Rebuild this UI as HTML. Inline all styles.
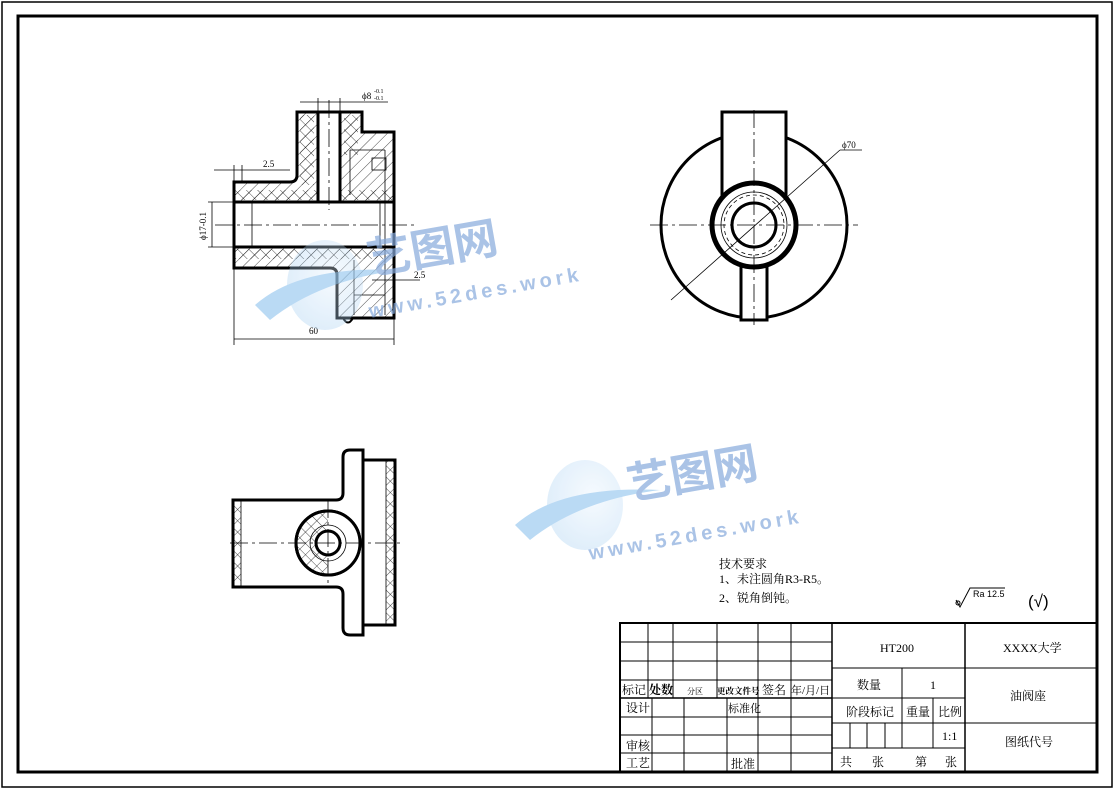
<!DOCTYPE html>
<html><head><meta charset="utf-8"><style>
html,body{margin:0;padding:0;background:#fff}
svg{display:block}
text{font-family:"Liberation Serif","Noto Serif CJK SC","Noto Sans CJK SC",serif;fill:#000}
.s{font-family:"Liberation Sans","Noto Sans CJK SC",sans-serif}
</style></head><body>
<svg width="1115" height="790" viewBox="0 0 1115 790" xmlns="http://www.w3.org/2000/svg">
<defs>
<pattern id="h" width="8" height="8" patternUnits="userSpaceOnUse" patternTransform="rotate(45)"><line x1="0" y1="0" x2="0" y2="8" stroke="#000" stroke-width="0.7"/></pattern>
<pattern id="x" width="8" height="8" patternUnits="userSpaceOnUse" patternTransform="rotate(45)"><line x1="0" y1="0" x2="0" y2="8" stroke="#000" stroke-width="0.7"/><line x1="0" y1="0" x2="8" y2="0" stroke="#000" stroke-width="0.7"/></pattern>
<radialGradient id="g" cx="0.6" cy="0.4" r="0.7"><stop offset="0" stop-color="#e6f2fd"/><stop offset="1" stop-color="#9ccaf0"/></radialGradient>
</defs>
<rect x="0" y="0" width="1115" height="790" fill="#fff"/>
<rect x="2" y="2" width="1110" height="785" fill="none" stroke="#000" stroke-width="1.5"/>
<rect x="18" y="16" width="1079" height="756" fill="none" stroke="#000" stroke-width="3"/>

<!-- FRONT VIEW -->
<g stroke="#000" fill="none">
<path d="M234 182 H290 Q297 182 297 175 V112 H362 V132 H394 V202 H234 Z" fill="url(#h)" stroke="none"/>
<path d="M234 247 H394 V318 H337 V275 Q337 268 330 268 H234 Z" fill="url(#h)" stroke="none"/>
<rect x="234" y="190" width="160" height="10" fill="url(#x)" stroke="none"/>
<rect x="234" y="249" width="160" height="10" fill="url(#x)" stroke="none"/>
<rect x="300" y="115" width="14" height="70" fill="url(#x)" stroke="none"/>
<rect x="344" y="115" width="14" height="40" fill="url(#x)" stroke="none"/>
<rect x="318" y="113" width="22" height="88" fill="#fff" stroke="none"/>
<rect x="236" y="203" width="157" height="43" fill="#fff" stroke="none"/>
<path d="M234 182 H290 Q297 182 297 175 V112 H362 V132 H394 V318 H337 V275 Q337 268 330 268 H234 Z" stroke-width="3"/>
<line x1="234" y1="202" x2="394" y2="202" stroke-width="3"/>
<line x1="234" y1="247" x2="394" y2="247" stroke-width="3"/>
<line x1="318" y1="112" x2="318" y2="202" stroke-width="3"/>
<line x1="340" y1="112" x2="340" y2="202" stroke-width="3"/>
<path d="M343 318 Q348 327 353 318" stroke-width="2"/>
<g stroke-width="0.8">
<line x1="252" y1="203" x2="252" y2="246"/><line x1="380" y1="203" x2="380" y2="246"/>
<line x1="350" y1="150" x2="385" y2="150"/><line x1="350" y1="150" x2="350" y2="195"/>
<rect x="372" y="158" width="14" height="12"/>
<line x1="354" y1="260" x2="354" y2="315"/><line x1="354" y1="295" x2="385" y2="295"/>
<line x1="385" y1="150" x2="385" y2="315"/>
</g>
<line x1="215" y1="225" x2="415" y2="225" stroke-width="0.8" stroke-dasharray="18 4 3 4"/>
<line x1="329" y1="100" x2="329" y2="210" stroke-width="0.8" stroke-dasharray="18 4 3 4"/>
<g stroke-width="0.8">
<line x1="300" y1="102" x2="388" y2="102"/><line x1="318" y1="98" x2="318" y2="112"/><line x1="340" y1="98" x2="340" y2="112"/>
<line x1="214" y1="170" x2="290" y2="170"/><line x1="234" y1="165" x2="234" y2="182"/><line x1="242" y1="165" x2="242" y2="182"/>
<line x1="208" y1="202" x2="234" y2="202"/><line x1="208" y1="247" x2="234" y2="247"/><line x1="212" y1="202" x2="212" y2="247"/>
<line x1="234" y1="268" x2="234" y2="345"/><line x1="394" y1="318" x2="394" y2="345"/><line x1="234" y1="339" x2="394" y2="339"/>
<line x1="372" y1="280" x2="420" y2="280"/>
</g>
</g>
<g class="s" font-size="9">
<text x="362" y="99">ϕ8</text><text x="374" y="93" font-size="6">-0.1</text><text x="374" y="100" font-size="6">-0.1</text>
<text x="263" y="167">2.5</text>
<text x="206" y="240" transform="rotate(-90 206 240)">ϕ17-0.1</text>
<text x="309" y="334">60</text>
<text x="414" y="278">2.5</text>
<text x="842" y="148">ϕ70</text>
</g>

<!-- RIGHT VIEW -->
<g stroke="#000" fill="none">
<circle cx="754" cy="225" r="93" stroke-width="3"/>
<rect x="722" y="112" width="64" height="90" fill="#fff" stroke-width="3"/>
<rect x="741" y="250" width="26" height="70" fill="#fff" stroke-width="3"/>
<circle cx="754" cy="225" r="42" fill="#fff" stroke-width="5"/>
<circle cx="754" cy="225" r="33" stroke-width="0.8"/>
<circle cx="754" cy="225" r="30" stroke-width="0.8" stroke-dasharray="4 3"/>
<circle cx="754" cy="225" r="22" fill="#fff" stroke-width="3"/>
<line x1="650" y1="225" x2="858" y2="225" stroke-width="0.8" stroke-dasharray="18 4 3 4"/>
<line x1="754" y1="110" x2="754" y2="325" stroke-width="0.8" stroke-dasharray="18 4 3 4"/>
<line x1="671" y1="300" x2="840" y2="150" stroke-width="0.8"/><line x1="840" y1="150" x2="862" y2="150" stroke-width="0.8"/>
</g>

<!-- TOP VIEW -->
<g stroke="#000" fill="none">
<rect x="233" y="500" width="8" height="87" fill="url(#x)" stroke="none"/>
<rect x="386" y="460" width="9" height="165" fill="url(#x)" stroke="none"/>
<path d="M233 500 H336 Q343 500 343 493 V457 Q343 450 350 450 H363 V460 H395 V625 H363 V635 H350 Q343 635 343 628 V594 Q343 587 336 587 H233 Z" stroke-width="3"/>
<line x1="363" y1="460" x2="363" y2="625" stroke-width="3"/>
<line x1="241" y1="500" x2="241" y2="587" stroke-width="0.8"/>
<line x1="386" y1="460" x2="386" y2="625" stroke-width="0.8"/>
<circle cx="328" cy="543" r="32" fill="url(#x)" stroke-width="3"/>
<path d="M328 511 A32 32 0 0 1 360 543 A32 32 0 0 1 328 575 L328 543 Z" fill="#fff" stroke="none"/>
<circle cx="328" cy="543" r="32" stroke-width="3"/>
<circle cx="328" cy="543" r="18" stroke-width="0.8"/>
<circle cx="328" cy="543" r="12" fill="#fff" stroke-width="3"/>
<line x1="230" y1="543" x2="400" y2="543" stroke-width="0.8" stroke-dasharray="18 4 3 4"/>
<line x1="328" y1="500" x2="328" y2="585" stroke-width="0.8" stroke-dasharray="18 4 3 4"/>
</g>

<!-- watermarks -->
<g opacity="0.7">
<ellipse cx="325" cy="285" rx="38" ry="45" fill="url(#g)" opacity="0.5"/>
<path d="M255 305 Q300 265 400 270 Q320 280 270 320 Z" fill="#9ccaf0"/>
<text x="370" y="275" font-size="44" class="s" transform="rotate(-10 370 275)" style="fill:#86a9dc;font-weight:bold">艺图网</text>
<text x="370" y="318" font-size="20" class="s" transform="rotate(-10 370 318)" style="fill:#86a9dc;font-weight:bold;letter-spacing:4px">www.52des.work</text>
<ellipse cx="585" cy="505" rx="38" ry="45" fill="url(#g)" opacity="0.5"/>
<path d="M515 525 Q560 485 660 490 Q580 500 530 540 Z" fill="#9ccaf0"/>
<text x="630" y="500" font-size="44" class="s" transform="rotate(-10 630 500)" style="fill:#86a9dc;font-weight:bold">艺图网</text>
<text x="590" y="560" font-size="20" class="s" transform="rotate(-10 590 560)" style="fill:#86a9dc;font-weight:bold;letter-spacing:4px">www.52des.work</text>
</g>

<!-- notes -->
<g font-size="12">
<text x="719" y="568">技术要求</text>
<text x="719" y="583">1、未注圆角R3-R5。</text>
<text x="719" y="602">2、锐角倒钝。</text>
</g>
<g stroke="#000" fill="none" stroke-width="1">
<path d="M956 600 L960 607 L970 588 H1005"/><circle cx="958" cy="603" r="2"/>
</g>
<text x="973" y="597" font-size="9" class="s">Ra 12.5</text>
<text x="1028" y="607" font-size="17" class="s">(√)</text>

<!-- TITLE BLOCK -->
<g stroke="#000" fill="none" stroke-width="1">
<rect x="620" y="623" width="477" height="149" stroke-width="2"/>
<line x1="620" y1="642" x2="832" y2="642"/><line x1="620" y1="661" x2="832" y2="661"/><line x1="620" y1="680" x2="832" y2="680"/>
<line x1="620" y1="698" x2="832" y2="698" stroke-width="1.5"/><line x1="620" y1="717" x2="832" y2="717"/><line x1="620" y1="735" x2="832" y2="735"/><line x1="620" y1="753" x2="832" y2="753"/>
<line x1="648" y1="623" x2="648" y2="698"/><line x1="673" y1="623" x2="673" y2="698"/><line x1="717" y1="623" x2="717" y2="698"/><line x1="758" y1="623" x2="758" y2="698"/><line x1="791" y1="623" x2="791" y2="698"/>
<line x1="652" y1="698" x2="652" y2="772"/><line x1="684" y1="698" x2="684" y2="772"/><line x1="727" y1="698" x2="727" y2="772"/><line x1="758" y1="698" x2="758" y2="772"/><line x1="791" y1="698" x2="791" y2="772"/>
<line x1="832" y1="623" x2="832" y2="772" stroke-width="1.5"/>
<line x1="965" y1="623" x2="965" y2="772" stroke-width="1.5"/>
<line x1="832" y1="668" x2="1097" y2="668"/><line x1="832" y1="698" x2="965" y2="698"/><line x1="832" y1="723" x2="1097" y2="723"/><line x1="832" y1="748" x2="965" y2="748"/>
<line x1="902" y1="668" x2="902" y2="748"/><line x1="933" y1="698" x2="933" y2="748"/>
<line x1="850" y1="723" x2="850" y2="748"/><line x1="867" y1="723" x2="867" y2="748"/><line x1="885" y1="723" x2="885" y2="748"/>
</g>
<g font-size="12">
<text x="622" y="694">标记</text><text x="649" y="694" font-weight="bold">处数</text><text x="687" y="694" font-size="8">分区</text><text x="717" y="694" font-size="8.5" font-weight="bold">更改文件号</text><text x="762" y="694">签名</text><text x="791" y="694" font-size="11">年/月/日</text>
<text x="626" y="712">设计</text><text x="728" y="712" font-size="11">标准化</text>
<text x="626" y="750">审核</text><text x="626" y="767">工艺</text><text x="731" y="768">批准</text>
<text x="880" y="652" font-size="12">HT200</text>
<text x="1003" y="652">XXXX大学</text>
<text x="857" y="689">数量</text><text x="930" y="689">1</text>
<text x="1010" y="700">油阀座</text>
<text x="846" y="716">阶段标记</text><text x="906" y="716">重量</text><text x="938" y="716">比例</text>
<text x="942" y="740">1:1</text>
<text x="1005" y="746">图纸代号</text>
<text x="840" y="766">共</text><text x="872" y="766">张</text><text x="915" y="766">第</text><text x="945" y="766">张</text>
</g>
</svg>
</body></html>
